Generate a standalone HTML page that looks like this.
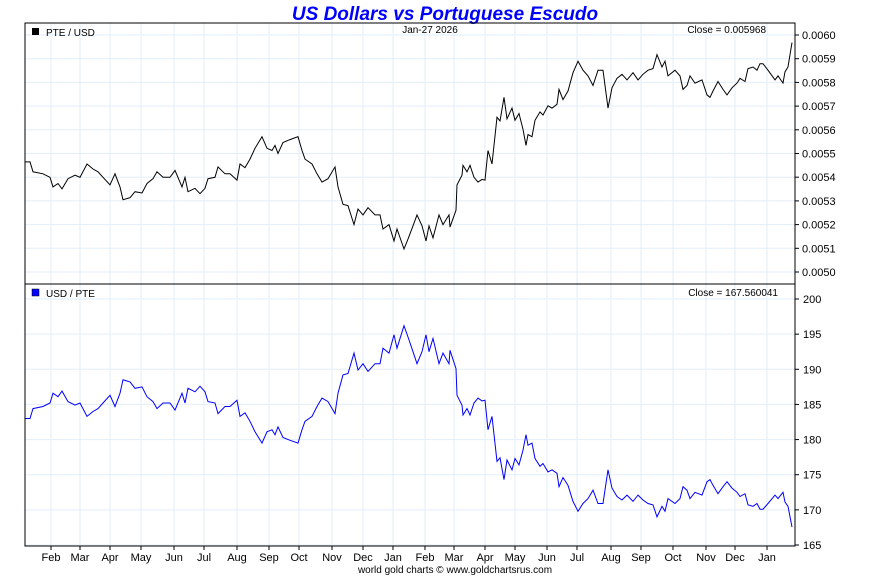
<!DOCTYPE html>
<html><head><meta charset="utf-8"><style>
body{margin:0;background:#fff;width:890px;height:575px;overflow:hidden}
svg text{font-family:"Liberation Sans",sans-serif}
</style></head><body>
<svg id="chart" width="890" height="575" xmlns="http://www.w3.org/2000/svg">
<text x="445" y="20" text-anchor="middle" font-size="19" font-weight="bold" font-style="italic" fill="#0000ff">US Dollars vs Portuguese Escudo</text>
<g id="grid"></g>
<g id="marks"></g>
<rect x="25" y="23" width="770" height="261" fill="none" stroke="#000"/>
<rect x="25" y="284" width="770" height="262" fill="none" stroke="#000"/>
<rect x="32" y="28" width="7" height="7" fill="#000"/>
<text x="46" y="36" font-size="10">PTE / USD</text>
<text x="430" y="33" font-size="10" text-anchor="middle">Jan-27  2026</text>
<text x="766" y="33" font-size="10" text-anchor="end">Close = 0.005968</text>
<rect x="32" y="289" width="7" height="7" fill="#0000ff" stroke="#000" stroke-width="0.5"/>
<text x="46" y="297" font-size="10">USD / PTE</text>
<text x="778" y="296" font-size="10" text-anchor="end">Close = 167.560041</text>
<text x="455" y="573" font-size="10" text-anchor="middle" fill="#000">world gold charts © www.goldchartsrus.com</text>
</svg>
<script>
const days=[0,5,8,18,25,28,33,37,43,50,55,62,68,73,78,85,90,95,98,105,110,117,122,128,132,138,145,150,157,160,163,170,175,180,183,190,193,200,205,212,215,220,225,230,237,242,247,250,253,258,265,273,277,280,287,292,297,303,310,313,318,323,329,333,338,343,350,355,358,364,369,372,379,383,388,392,397,401,404,408,414,418,424,
425,431,432,437,438,442,445,449,453,457,460,463,467,472,475,479,482,487,490,494,498,501,503,507,510,515,518,523,527,532,534,538,543,548,553,558,563,568,573,578,583,587,592,597,602,608,613,618,623,628,632,637,640,643,650,655,658,662,665,670,677,682,685,688,693,698,702,707,712,715,720,723,728,732,735,738,743,750,753,758,760,763,767];
const usdPte=[183.0,183.0,184.4,184.7,185.2,186.6,186.1,186.9,185.4,184.9,185.2,183.3,184.0,184.4,185.2,186.3,184.7,186.6,188.5,188.2,187.3,187.5,186.1,185.4,184.4,185.2,185.2,184.2,186.6,185.2,187.3,186.8,187.6,186.8,185.4,185.2,183.7,184.7,184.7,185.6,183.3,183.8,182.6,181.1,179.5,181.1,181.4,180.7,181.8,180.3,179.9,179.5,181.4,182.6,183.3,184.7,185.9,185.4,183.7,186.6,189.2,189.4,192.3,189.9,190.8,189.7,190.8,190.8,193.0,192.3,194.9,193.0,196.2,194.6,192.5,190.8,192.5,194.9,192.5,194.4,190.8,192.3,190.8,
192.7,190.1,186.3,184.9,183.5,184.4,183.5,185.2,185.9,185.5,185.6,181.4,183.3,176.9,177.4,174.3,177.1,175.7,177.3,176.4,178.5,180.7,179.2,179.5,177.3,176.2,176.6,175.4,175.7,175.2,173.3,174.6,173.5,171.2,169.8,170.9,171.6,172.8,170.9,170.9,175.7,173.1,171.9,171.4,172.1,171.2,172.1,171.4,170.9,170.7,169.0,170.5,169.8,171.6,170.9,171.6,173.3,172.8,171.6,172.5,172.1,174.0,174.3,173.5,172.3,173.3,174.0,173.1,172.5,171.9,172.3,170.7,170.5,170.9,170.1,170.1,170.9,172.1,171.6,172.5,171.1,170.5,167.56];
const pteUsd=usdPte.map(v=>1/v);
const topTicks=["0.0050","0.0051","0.0052","0.0053","0.0054","0.0055","0.0056","0.0057","0.0058","0.0059","0.0060"];
const botTicks=["165","170","175","180","185","190","195","200"];
const months=["Feb","Mar","Apr","May","Jun","Jul","Aug","Sep","Oct","Nov","Dec","Jan","Feb","Mar","Apr","May","Jun","Jul","Aug","Sep","Oct","Nov","Dec","Jan"];
const monthDays=[26,55,85,116,149,179,212,244,274,307,338,368,400,429,460,490,522,552,586,616,648,681,710,742];

const NS="http://www.w3.org/2000/svg";
const X0=25,X1=795,totalDays=767;
const xS=d=>X0+d*(767/totalDays);
const yTop=v=>35+(0.0060-v)/0.0001*23.7;
const yBot=v=>299+(200-v)*(246/35);
const grid=document.getElementById('grid'),marks=document.getElementById('marks');
function mk(tag,attrs,parent){const e=document.createElementNS(NS,tag);for(const k in attrs)e.setAttribute(k,attrs[k]);parent.appendChild(e);return e;}
monthDays.forEach((d,i)=>{
  const x=xS(d);
  const g1=mk('line',{x1:x,x2:x,y1:23,y2:284,stroke:'#e3eef8'},grid);
  
  
  const g2=mk('line',{x1:x,x2:x,y1:284,y2:546,stroke:'#e3eef8'},grid);
  
  
  const tk=mk('line',{x1:x,x2:x,y1:546,y2:550,stroke:'#000'},grid);
  
  
  const t=mk('text',{x:x,y:561,'font-size':11,'text-anchor':'middle'},grid);
  t.textContent=months[i];
  
  
});
topTicks.forEach(s=>{
  const y=yTop(parseFloat(s));
  const g=mk('line',{x1:X0,x2:X1,y1:y,y2:y,stroke:'#e3eef8'},grid);
  
  
  const tk=mk('line',{x1:X1,x2:X1+4,y1:y,y2:y,stroke:'#000'},grid);
  
  
  const t=mk('text',{x:802,y:y+4,'font-size':11},grid);
  t.textContent=s;
  
  
});
botTicks.forEach(s=>{
  const y=yBot(parseFloat(s));
  const g=mk('line',{x1:X0,x2:X1,y1:y,y2:y,stroke:'#e3eef8'},grid);
  
  
  const tk=mk('line',{x1:X1,x2:X1+4,y1:y,y2:y,stroke:'#000'},grid);
  
  
  const t=mk('text',{x:803,y:y+4,'font-size':11},grid);
  t.textContent=s;
  
  
});
const p1=mk('polyline',{points:days.map((d,i)=>xS(d).toFixed(1)+','+yTop(pteUsd[i]).toFixed(1)).join(' '),fill:'none',stroke:'#000','stroke-width':1},marks);


const p2=mk('polyline',{points:days.map((d,i)=>xS(d).toFixed(1)+','+yBot(usdPte[i]).toFixed(1)).join(' '),fill:'none',stroke:'#0000ff','stroke-width':1},marks);


</script>
</body></html>
